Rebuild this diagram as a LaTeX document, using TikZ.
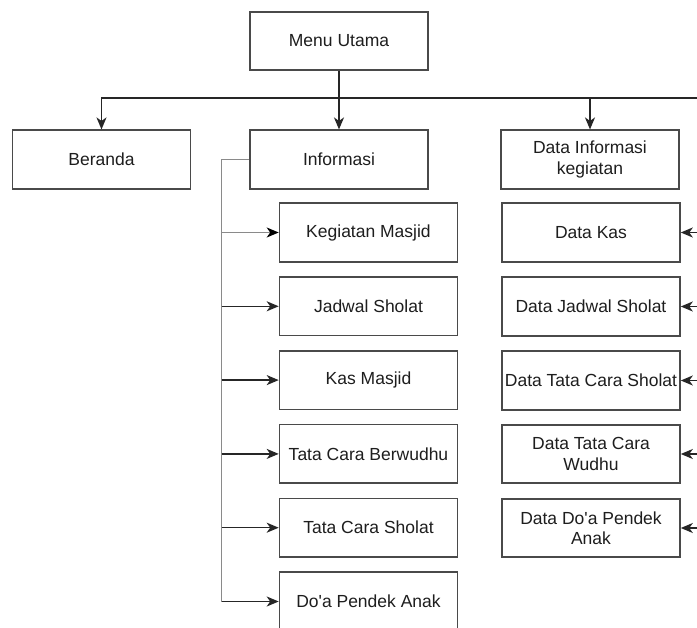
\documentclass[tikz,border=0pt]{standalone}
\usepackage{fontspec}
\setmainfont{Liberation Sans}[Ligatures=TeXOff]
\usetikzlibrary{arrows.meta}
\definecolor{boxline}{HTML}{4A4A4A}
\definecolor{txt}{HTML}{1E1E1E}
\definecolor{trunkc}{HTML}{8A8A8A}
\tikzset{
  box/.style={draw=boxline, line width=1.6pt, minimum width=178pt, minimum height=58.5pt,
    inner sep=0pt, align=center, text=txt, font=\fontsize{17.5}{20.5}\selectfont},
  conn/.style={draw=black!85, line width=1.5pt},
  arr/.style={conn, -{Stealth[length=12pt,width=10pt,inset=3.5pt]}},
  garr/.style={draw=trunkc, line width=1.5pt, -{Stealth[length=12pt,width=10pt,inset=3.5pt,color=black]}},
  trunk/.style={draw=trunkc, line width=1.5pt}
}
\begin{document}
\begin{tikzpicture}[x=1pt,y=-1pt]
\useasboundingbox (0,0) rectangle (697,628);
\fill[white] (0,0) rectangle (697,628);
% nodes
\node[box] (menu) at (339,41) {Menu Utama};
\node[box] (beranda) at (101.5,159.5) {Beranda};
\node[box] (info) at (339,159.5) {Informasi};
\node[box] (data) at (590,159.5) {Data Informasi\\kegiatan};
\node[box] (c1) at (368.5,232.5) {Kegiatan Masjid};
\node[box] (c2) at (368.5,306.3) {Jadwal Sholat};
\node[box] (c3) at (368.5,380.1) {Kas Masjid};
\node[box] (c4) at (368.5,453.9) {Tata Cara Berwudhu};
\node[box] (c5) at (368.5,527.7) {Tata Cara Sholat};
\node[box] (c6) at (368.5,601.5) {Do'a Pendek Anak};
\node[box] (d1) at (591,232.5) {Data Kas};
\node[box] (d2) at (591,306.5) {Data Jadwal Sholat};
\node[box] (d3) at (591,380.5) {Data Tata Cara Sholat};
\node[box] (d4) at (591,454) {Data Tata Cara\\Wudhu};
\node[box] (d5) at (591,528) {Data Do'a Pendek\\Anak};
% coordinates for free ends
\coordinate (bus) at (0,98);
\coordinate (redge) at (697,0);
\coordinate (tr) at (221.7,0);
% top bus
\draw[arr] (menu.south) -- (info.north);
\draw[arr] (menu.south |- bus) -| (beranda.north);
\draw[arr] (menu.south |- bus) -| (data.north);
\draw[conn] (data.north |- bus) -- (redge |- bus);
% informasi trunk
\draw[trunk] (info.west) -- (info.west -| tr) -- (tr |- c6.west);
\draw[garr] (tr |- c1.west) -- (c1.west);
\foreach \n in {c2,c3,c4,c5,c6}{
  \draw[arr] (tr |- \n.west) -- (\n.west);
}
% right column arrows from edge
\foreach \n in {d1,d2,d3,d4,d5}{
  \draw[arr] (redge |- \n.east) -- (\n.east);
}
\end{tikzpicture}
\end{document}
